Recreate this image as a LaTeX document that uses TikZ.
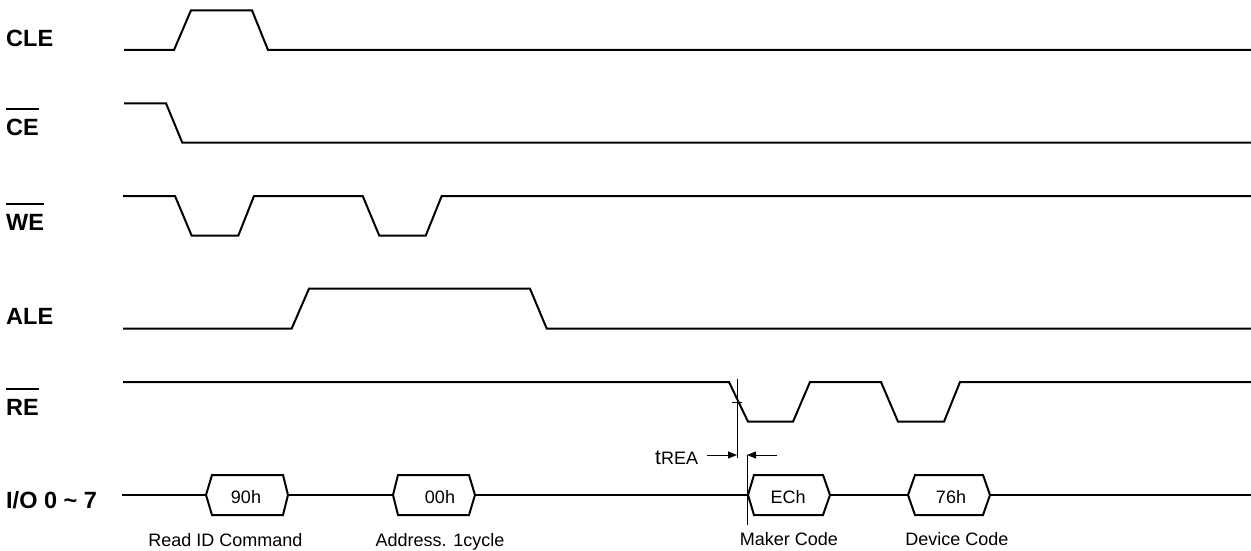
\documentclass[tikz,border=0pt]{standalone}
\usepackage{fontspec}
\setmainfont{Liberation Sans}
\usetikzlibrary{arrows.meta}
\newcommand{\ovl}[1]{\setbox0\hbox{#1}\rlap{\rule[25pt]{\wd0}{2pt}}\box0}

\begin{document}
\begin{tikzpicture}[x=1pt,y=-1pt,
    wave/.style={line width=2pt,line join=miter},
    sig/.style={font=\fontsize{23.5}{23.5}\selectfont\bfseries,anchor=base west,inner sep=0pt},
    val/.style={font=\fontsize{18}{18}\selectfont,anchor=base,inner sep=0pt},
    dim/.style={line width=1pt}]
    \useasboundingbox (0,0) rectangle (1251,551);

    \node[sig] (cle) at (6,46.6) {CLE};
    \node[sig] (ce) at (6,135.3) {\ovl{CE}};
    \node[sig] (we) at (6,230.3) {\ovl{WE}};
    \node[sig] (ale) at (6,324) {ALE};
    \node[sig] (re) at (6,415) {\ovl{RE}};
    \node[sig] (io) at (6,508) {I/O 0 \textasciitilde{} 7};

    \draw[wave] (124,50) -- (174,50) -- (191,10.3) -- (252,10.3) -- (268,50) -- (1251,50);
    \draw[wave] (124,103.3) -- (166,103.3) -- (182.3,142.7) -- (1251,142.7);
    \draw[wave] (123,196) -- (175,196) -- (191.7,235.7) -- (238.3,235.7) -- (254,196)
        -- (362.7,196) -- (379.3,235.7) -- (425.7,235.7) -- (441.7,196) -- (1251,196);
    \draw[wave] (123,328.5) -- (291.7,328.5) -- (309,288.7) -- (530,288.7) -- (546.7,328.5) -- (1251,328.5);
    \draw[wave] (123,382) -- (729,382) -- (748,421.7) -- (793,421.7) -- (810,382)
        -- (881,382) -- (898,421.7) -- (944,421.7) -- (960,382) -- (1251,382);

    \draw[wave] (122,495) -- (206,495) (288,495) -- (393,495) (475,495) -- (748,495)
        (830,495) -- (908,495) (990,495) -- (1251,495);
    \draw[wave] (206,495) -- (212,475) -- (283,475) -- (288,495) -- (283,515) -- (212,515) -- cycle;
    \draw[wave] (393,495) -- (398,475) -- (469,475) -- (475,495) -- (469,515) -- (398,515) -- cycle;
    \draw[wave] (748,495) -- (754,475) -- (823,475) -- (830,495) -- (823,515) -- (754,515) -- cycle;
    \draw[wave] (908,495) -- (915,475) -- (983,475) -- (990,495) -- (983,515) -- (915,515) -- cycle;

    \node[val] (cmd) at (246,503.3) {90h};
    \node[val] (addr) at (440,503.3) {00h};
    \node[val] (maker) at (788,503.3) {ECh};
    \node[val] (device) at (951,503.3) {76h};

    \node[val] (cmdtxt) at (225.5,546) {Read ID Command};
    \node[val] (addrtxt) at (440,546) {Address. 1cycle};
    \node[val] (makertxt) at (789,545) {Maker Code};
    \node[val] (devicetxt) at (957,545) {Device Code};

    % tREA
    \coordinate (retop) at (737,379);
    \coordinate (rebot) at (737,458);
    \coordinate (iotop) at (747,455);
    \coordinate (iobot) at (747,525);
    \draw[dim] (retop) -- (rebot);
    \draw[dim] (732,402) -- (742,402);
    \draw[dim] (iotop) -- (iobot);
    \node[anchor=base west,inner sep=0pt] (trea) at (655,464)
        {{\fontsize{21}{21}\selectfont t}{\fontsize{18}{18}\selectfont REA}};
    \coordinate (la) at (707,455);
    \coordinate (ra) at (777,455);
    \draw[dim,-{Triangle[length=9pt,width=7pt]}] (la) -- (737,455);
    \draw[dim,-{Triangle[length=9pt,width=7pt]}] (ra) -- (iotop);
\end{tikzpicture}
\end{document}
